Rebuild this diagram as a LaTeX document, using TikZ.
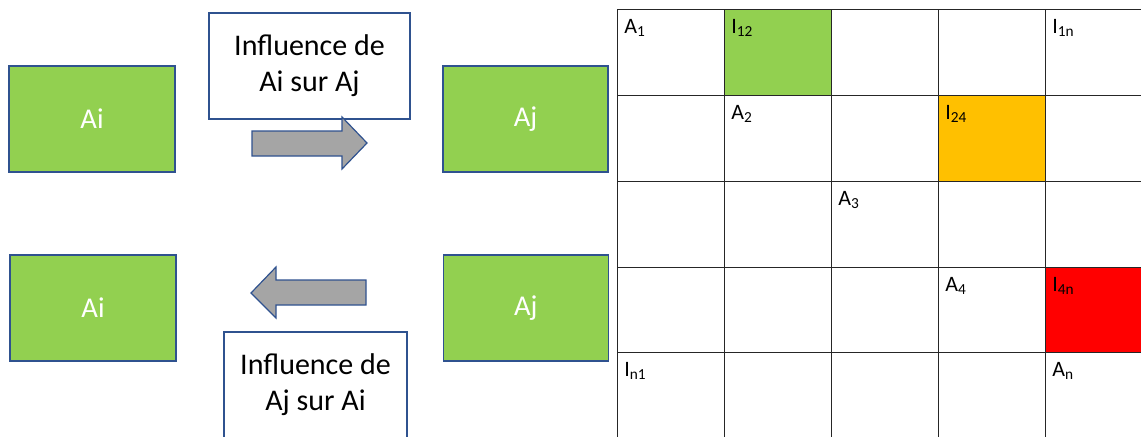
\documentclass[tikz,border=0pt]{standalone}
\usepackage{fontspec}
\setmainfont{Carlito}
\definecolor{agentgreen}{HTML}{92D050}
\definecolor{cellorange}{HTML}{FFC000}
\definecolor{cellred}{HTML}{FF0000}
\definecolor{outline}{HTML}{2F528F}
\definecolor{arrowgray}{HTML}{A5A5A5}
\definecolor{gridline}{HTML}{262626}
% lowered index for the matrix labels
\newcommand\cellsub[1]{\raisebox{-0.3ex}{\fontsize{11.5}{12}\selectfont #1}}
\tikzset{
  agent/.style={rectangle, draw=outline, line width=0.9pt, fill=agentgreen,
    text=white, font=\fontsize{21.5}{25}\selectfont, inner sep=0pt},
  infobox/.style={rectangle, draw=outline, line width=0.9pt, fill=white,
    align=center, font=\fontsize{22.5}{27}\selectfont, inner sep=0pt},
  blockarrow/.style={draw=outline, line width=0.9pt, fill=arrowgray, line join=miter},
  gridlines/.style={draw=gridline, line width=0.75pt},
  celllabel/.style={anchor=base west, inner sep=0pt, font=\fontsize{16.5}{18}\selectfont}
}
\begin{document}
\begin{tikzpicture}[x=0.75pt, y=-0.75pt]
\useasboundingbox (0,0) rectangle (1141,436);
\clip (0,0) rectangle (1141,436);

% ---- influence of Ai on Aj
\node[agent, minimum width=166*0.75pt, minimum height=106*0.75pt] (aiTop) at (92,119) {Ai};
\node[agent, minimum width=165*0.75pt, minimum height=106*0.75pt] (ajTop) at (525.5,119) {Aj};
\node[infobox, minimum width=201*0.75pt, minimum height=106*0.75pt] (infTop) at (309.5,66)
  {Influence de\\Ai sur Aj};
\path[blockarrow] (252,131) -- (342,131) -- (342,117) -- (367,143) -- (342,169)
  -- (342,156) -- (252,156) -- cycle;

% ---- influence of Aj on Ai
\node[agent, minimum width=166*0.75pt, minimum height=106*0.75pt] (aiBot) at (93,308) {Ai};
\node[agent, minimum width=165*0.75pt, minimum height=106*0.75pt] (ajBot) at (525.75,308) {Aj};
\node[infobox, minimum width=183*0.75pt, minimum height=106*0.75pt] (infBot) at (315.5,385)
  {Influence de\\Aj sur Ai};
\path[blockarrow] (366,280) -- (276,280) -- (276,267) -- (251,293) -- (276,318)
  -- (276,305) -- (366,305) -- cycle;

% ---- influence matrix
\fill[agentgreen] (724,9) rectangle (831,95);
\fill[cellorange] (938,95) rectangle (1045,181);
\fill[cellred] (1045,267) rectangle (1152,352);
\foreach \gx in {617,724,831,938,1045}
  \draw[gridlines] (\gx,9) -- (\gx,440);
\foreach \gy in {9,95,181,267,352}
  \draw[gridlines] (617,\gy) -- (1150,\gy);

\node[celllabel] (a1)  at (624,33)  {A\cellsub{1}};
\node[celllabel] (i12) at (731,33)  {I\cellsub{12}};
\node[celllabel] (i1n) at (1052,33) {I\cellsub{1n}};
\node[celllabel] (a2)  at (731,119) {A\cellsub{2}};
\node[celllabel] (i24) at (945,119) {I\cellsub{24}};
\node[celllabel] (a3)  at (838,205) {A\cellsub{3}};
\node[celllabel] (a4)  at (945,291) {A\cellsub{4}};
\node[celllabel] (i4n) at (1052,291) {I\cellsub{4n}};
\node[celllabel] (in1) at (624,376) {I\cellsub{n1}};
\node[celllabel] (an)  at (1052,376) {A\cellsub{n}};
\end{tikzpicture}
\end{document}
